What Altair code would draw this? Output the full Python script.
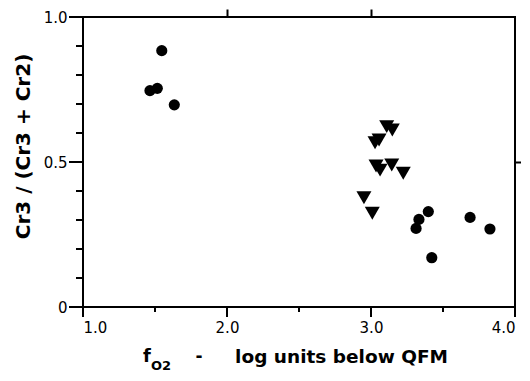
import altair as alt
import pandas as pd

# Circles
circle_x = [1.547, 1.465, 1.516, 1.634, 3.398, 3.333, 3.313, 3.688, 3.826, 3.422]
circle_y = [0.884, 0.746, 0.754, 0.697, 0.329, 0.302, 0.271, 0.309, 0.269, 0.170]

# Down-triangles
tri_x = [3.109, 3.148, 3.028, 3.056, 3.035, 3.063, 3.144, 3.224, 2.951, 3.009]
tri_y = [0.622, 0.610, 0.566, 0.576, 0.486, 0.472, 0.490, 0.461, 0.377, 0.323]

x_major = [1.0, 2.0, 3.0, 4.0]
x_minor = [1.5, 2.5, 3.5]
y_major = [0.0, 0.5, 1.0]
y_minor = [0.1, 0.2, 0.3, 0.4, 0.6, 0.7, 0.8, 0.9]
top_ticks = [2.0, 3.0]
right_ticks = [0.5]

y_title = "Cr3 / (Cr3 + Cr2)"
x_title_f = "f"
x_title_sub = "O2"
x_title_dash = "-"
x_title_rest = "log units below QFM"

FONT = "DejaVu Sans"
W, H = 432, 290

xscale = alt.Scale(domain=[1, 4], nice=False, zero=False)
yscale = alt.Scale(domain=[0, 1], nice=False, zero=False)

circ = alt.Chart(pd.DataFrame({"x": circle_x, "y": circle_y})).mark_point(
    shape="circle", filled=True, size=125, color="black", opacity=1
).encode(
    x=alt.X("x:Q", scale=xscale, axis=alt.Axis(
        orient="bottom", values=x_major, ticks=False, grid=False, domain=False,
        format=".1f", labelFont=FONT, labelFontSize=15, labelColor="black", labelPadding=13,
        title=x_title_rest, titleX=258, titleY=55, titleFont=FONT, titleFontSize=18.5,
        titleFontWeight="bold", titleAlign="center", titleBaseline="alphabetic", titleAngle=0)),
    y=alt.Y("y:Q", scale=yscale, axis=alt.Axis(
        orient="left", values=y_major, ticks=False, grid=False, domain=False,
        labelExpr="datum.value == 0 ? '0' : format(datum.value, '.1f')",
        labelFont=FONT, labelFontSize=15, labelColor="black", labelPadding=16,
        title=None)),
)
tri = alt.Chart(pd.DataFrame({"x": tri_x, "y": tri_y})).mark_point(
    shape="triangle-down", filled=True, size=225, color="black", opacity=1
).encode(
    x=alt.X("x:Q", scale=xscale, axis=alt.Axis(orient="top", values=top_ticks, tickSize=8, labels=False, title=None,
                                               grid=False, domain=False, tickColor="black", tickWidth=2)),
    y=alt.Y("y:Q", scale=yscale, axis=alt.Axis(orient="right", values=right_ticks, tickSize=7, labels=False, title=None,
                                               grid=False, domain=False, tickColor="black", tickWidth=2)),
)

# outward tick marks on left and bottom, placed through the shared scales
def yticks(vals, length):
    return alt.Chart(pd.DataFrame({"v": vals})).mark_rule(color="black", strokeWidth=2, clip=False).encode(
        y=alt.Y("v:Q", scale=yscale, axis=None), x=alt.value(0), x2=alt.value(-length))

def xticks(vals, length):
    return alt.Chart(pd.DataFrame({"v": vals})).mark_rule(color="black", strokeWidth=2, clip=False).encode(
        x=alt.X("v:Q", scale=xscale, axis=None), y=alt.value(H), y2=alt.value(H + length))

tick_layers = [yticks(y_major, 14), yticks(y_minor, 7), xticks(x_major, 10), xticks(x_minor, 5)]

title_df = pd.DataFrame({"t": [0]})

def label(text, x, y, size, angle=0, baseline="alphabetic"):
    return alt.Chart(title_df).mark_text(
        text=text, font=FONT, fontSize=size, fontWeight="bold", color="black",
        align="center", baseline=baseline, angle=angle,
    ).encode(x=alt.value(x), y=alt.value(y))

texts = [
    label(y_title, -59, 129.5, 20, angle=270, baseline="middle"),
    label(x_title_f, 64, 345, 18),
    label(x_title_sub, 78, 353, 13),
    label(x_title_dash, 116, 345, 17),
]

chart = alt.layer(circ, tri, *tick_layers, *texts).resolve_axis(x="independent", y="independent").properties(
    width=W, height=H, autosize=alt.AutoSizeParams(type="none"),
    padding={"left": 75, "top": 9, "right": 6, "bottom": 66},
).configure_view(stroke="black", strokeWidth=2)
chart.save("out.html", embed_options={"renderer": "svg", "actions": False})
